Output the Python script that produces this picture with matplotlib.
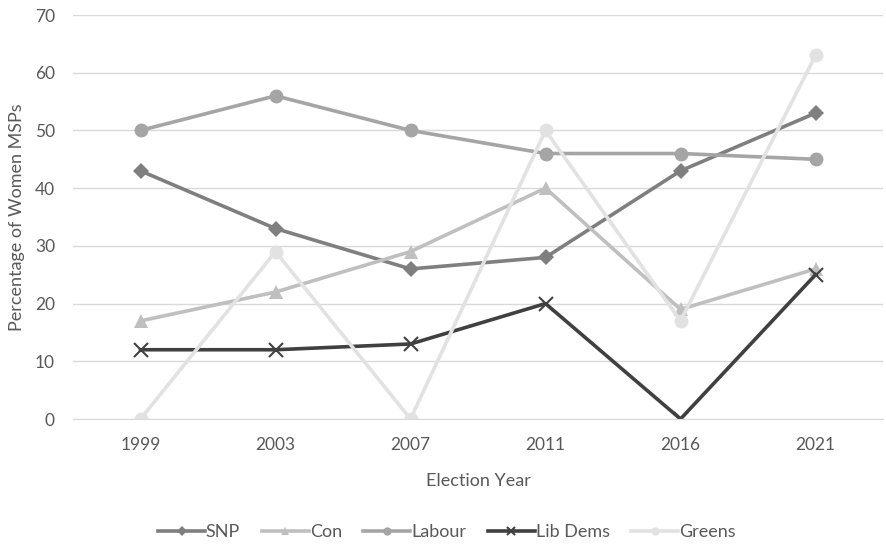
import matplotlib
matplotlib.use("Agg")
import matplotlib.pyplot as plt

years = ["1999", "2003", "2007", "2011", "2016", "2021"]
snp = [43, 33, 26, 28, 43, 53]
con = [17, 22, 29, 40, 19, 26]
labour = [50, 56, 50, 46, 46, 45]
libdems = [12, 12, 13, 20, 0, 25]
greens = [0, 29, 0, 50, 17, 63]

plt.rcParams['font.family'] = ['Lato', 'DejaVu Sans']
txt = '#595959'

fig = plt.figure(figsize=(8.86, 5.45), dpi=100)
ax = fig.add_axes([73/886, 1-419/545, 810/886, 404/545])
x = list(range(len(years)))

series = [
    ("SNP", snp, '#7f7f7f', 'D', 8.5),
    ("Con", con, '#bfbfbf', '^', 10),
    ("Labour", labour, '#a5a5a5', 'o', 10),
    ("Lib Dems", libdems, '#404040', 'x', 9.5),
    ("Greens", greens, '#e2e2e2', 'o', 10),
]
for name, vals, col, mk, ms in series:
    kw = dict(markeredgewidth=1.5) if mk == 'x' else dict(markeredgewidth=0)
    ax.plot(x, vals, color=col, lw=2.6, marker=mk, markersize=ms,
            markerfacecolor=col, markeredgecolor=col, label=name, **kw)

ax.set_xlim(-0.5, len(years) - 0.5)
ax.set_ylim(0, 70)
ax.set_yticks(range(0, 71, 10))
ax.set_xticks(x)
ax.set_xticklabels(years)
ax.grid(axis='y', color='#d9d9d9', lw=1)
ax.set_axisbelow(True)
for s in ['top', 'right', 'left']:
    ax.spines[s].set_visible(False)
ax.spines['bottom'].set_color('#d9d9d9')
ax.tick_params(axis='both', length=0, colors=txt, labelsize=12.5)
ax.tick_params(axis='y', pad=13)
ax.tick_params(axis='x', pad=13)
ax.set_xlabel("Election Year", color=txt, fontsize=13, labelpad=14)
ax.set_ylabel("Percentage of Women MSPs", color=txt, fontsize=13, labelpad=7)

leg = fig.legend(loc='center', bbox_to_anchor=(447/886, 1-532/545), ncol=5,
                 frameon=False, fontsize=13, handlelength=2.6,
                 columnspacing=1.2, handletextpad=0.05, markerscale=0.6)
for t in leg.get_texts():
    t.set_color(txt)

fig.savefig("out.png", dpi=100)
